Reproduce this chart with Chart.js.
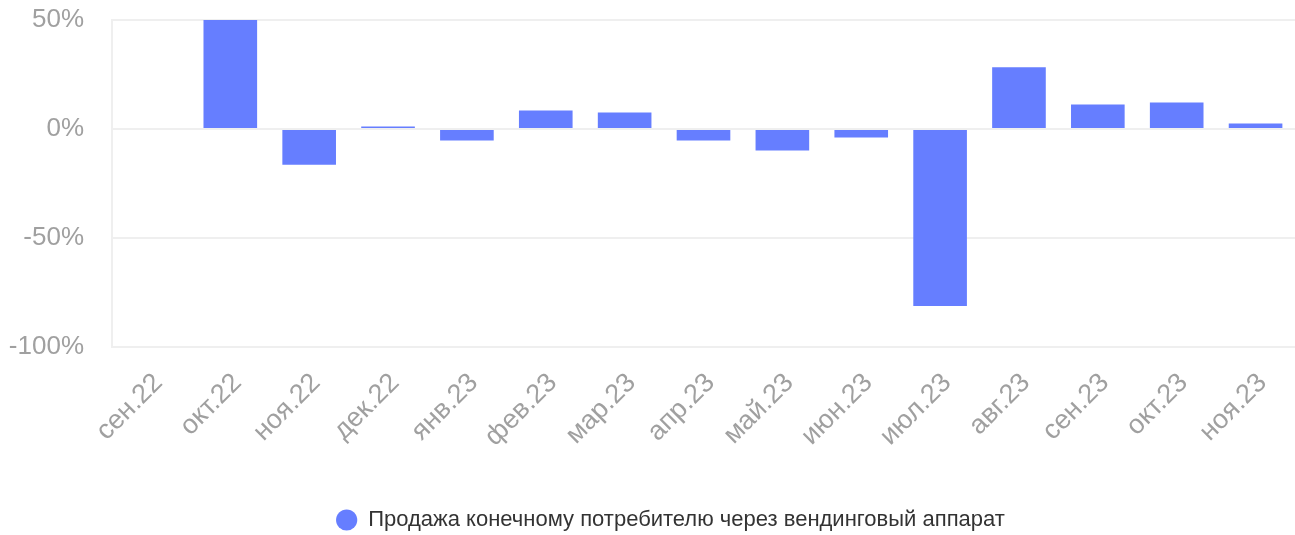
<!DOCTYPE html>
<html>
<head>
<meta charset="utf-8">
<script src="https://cdn.jsdelivr.net/npm/chart.js@4/dist/chart.umd.min.js"></script>
<style>
  html, body { margin: 0; padding: 0; background: #fff; }
  #wrap { width: 1295px; height: 535px; }
</style>
</head>
<body>
<div id="wrap"><canvas id="salesChart"></canvas></div>
<script>
// months and monthly change, %
const months = ['сен.22', 'окт.22', 'ноя.22', 'дек.22', 'янв.23', 'фев.23', 'мар.23', 'апр.23',
  'май.23', 'июн.23', 'июл.23', 'авг.23', 'сен.23', 'окт.23', 'ноя.23'];
const vendingChange = [0, 50, -16.4, 1.2, -5.3, 8.5, 7.6, -5.3, -9.9, -3.9, -81.2, 28.3, 11.3, 12.2, 2.5];
const yTicks = [50, 0, -50, -100];
const seriesName = 'Продажа конечному потребителю через вендинговый аппарат';

const fontFamily = '"Liberation Sans", Arial, Helvetica, sans-serif';
const gridColor = '#efefef';

// legend in the original sits a bit right of the canvas centre
const legendShift = {
  id: 'legendShift',
  afterLayout(chart) {
    chart.legend.left += 20;
    chart.legend.right += 20;
  }
};

const canvas = document.getElementById('salesChart');
new Chart(canvas.getContext('2d'), {
  type: 'bar',
  data: {
    labels: months,
    datasets: [{
      label: seriesName,
      data: vendingChange,
      backgroundColor: '#667eff',
      borderWidth: 0,
      barPercentage: 0.85,
      categoryPercentage: 0.8
    }]
  },
  plugins: [legendShift],
  options: {
    responsive: true,
    maintainAspectRatio: false,
    animation: false,
    layout: { padding: { top: 20, left: 6, right: 0, bottom: -6 } },
    plugins: {
      legend: {
        position: 'bottom',
        labels: {
          usePointStyle: true,
          pointStyle: 'circle',
          boxWidth: 21,
          boxHeight: 15,
          padding: 2,
          color: '#333',
          font: { family: fontFamily, size: 22 }
        }
      },
      tooltip: {
        callbacks: {
          label: function(context) {
            return `${context.dataset.label}: ${context.raw}%`;
          }
        }
      }
    },
    scales: {
      x: {
        grid: { display: false, drawTicks: false },
        border: { color: gridColor },
        ticks: {
          color: '#a0a0a0',
          font: { family: fontFamily, size: 27 },
          maxRotation: 45,
          minRotation: 45,
          padding: 20,
          labelOffset: 7
        },
        afterFit: function(scale) {
          scale.height += 34;
          scale.paddingLeft = 0;
          scale.paddingRight = 0;
        }
      },
      y: {
        min: -100,
        max: 50,
        afterBuildTicks: function(scale) {
          scale.ticks = yTicks.map(v => ({ value: v }));
        },
        afterFit: function(scale) {
          scale.width = 106;
          scale.paddingTop = 0;
          scale.paddingBottom = 0;
        },
        grid: { color: gridColor, lineWidth: 2, drawTicks: false },
        border: { color: gridColor, width: 2 },
        ticks: {
          color: '#a0a0a0',
          padding: 28,
          font: { family: fontFamily, size: 26 },
          callback: function(value) { return value + '%'; }
        }
      }
    }
  }
});
</script>
</body>
</html>
